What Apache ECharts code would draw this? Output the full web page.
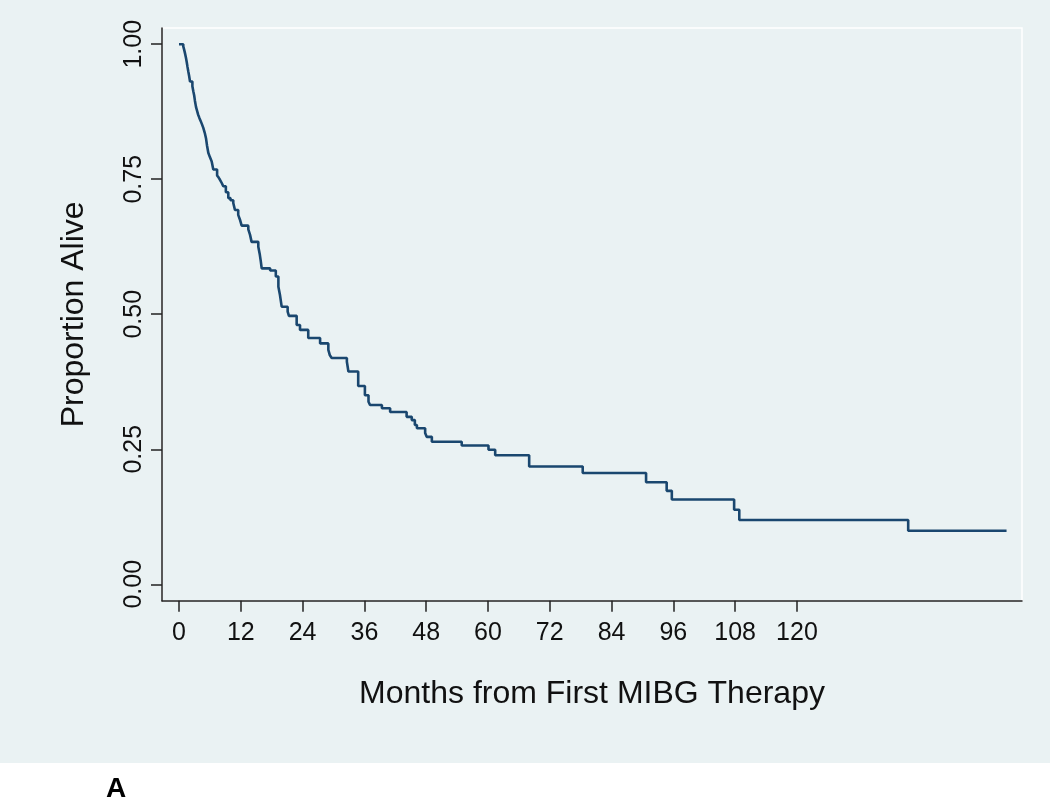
<!DOCTYPE html>
<html>
<head>
<meta charset="utf-8">
<script src="https://cdn.jsdelivr.net/npm/echarts@6/dist/echarts.min.js"></script>
<style>
  html, body { margin: 0; padding: 0; background: #ffffff; }
  #chart { width: 1050px; height: 799px; }
</style>
</head>
<body>
<div id="chart"></div>
<script>
// Kaplan-Meier estimate: time of each step (months) and survival after the step
const months = [0, 0.83, 1.0, 1.17, 1.35, 1.5, 1.65, 1.8, 1.97, 2.14, 2.6, 2.78, 2.95, 3.1, 3.3,
  3.5, 3.7, 3.94, 4.2, 4.45, 4.72, 5.0, 5.24, 5.45, 5.69, 6.0, 6.35, 6.66, 7.4, 7.7,
  7.96, 8.3, 8.6, 9.1, 9.57, 10.0, 10.54, 10.87, 11.5, 11.84, 12.17, 13.46, 13.8, 14.1, 15.4,
  15.7, 15.9, 16.06, 17.7, 18.8, 19.3, 19.6, 19.94, 21.1, 21.35, 22.85, 23.5, 25.1, 27.4, 29.0,
  29.3, 29.65, 32.6, 32.9, 34.8, 36.1, 36.8, 37.1, 39.4, 41.0, 44.2, 45.2, 45.8, 46.2, 47.8,
  48.1, 49.1, 54.9, 60.1, 61.4, 68.0, 78.4, 90.7, 94.7, 95.7, 107.8, 108.8, 141.6, 160.7];
const survival = [1.000, 0.996, 0.990, 0.983, 0.975, 0.967, 0.958, 0.950, 0.941, 0.931, 0.922, 0.913, 0.905, 0.895, 0.884,
  0.877, 0.870, 0.864, 0.858, 0.852, 0.845, 0.836, 0.826, 0.812, 0.799, 0.791, 0.783, 0.768, 0.757, 0.753,
  0.749, 0.743, 0.737, 0.726, 0.715, 0.711, 0.706, 0.693, 0.684, 0.675, 0.664, 0.657, 0.647, 0.634, 0.625,
  0.610, 0.597, 0.585, 0.581, 0.570, 0.551, 0.536, 0.514, 0.505, 0.497, 0.480, 0.471, 0.456, 0.446, 0.434,
  0.424, 0.419, 0.412, 0.394, 0.367, 0.350, 0.338, 0.332, 0.326, 0.319, 0.310, 0.304, 0.295, 0.289, 0.280,
  0.273, 0.264, 0.257, 0.249, 0.239, 0.218, 0.206, 0.189, 0.173, 0.157, 0.138, 0.119, 0.099, 0.099];
const xTicks = [0, 12, 24, 36, 48, 60, 72, 84, 96, 108, 120];
const yTicks = [0, 0.25, 0.5, 0.75, 1];
const xTitle = 'Months from First MIBG Therapy';
const yTitle = 'Proportion Alive';
const panelLabel = 'A';

const FONT = "'Liberation Sans', Arial, Helvetica, sans-serif";
const chart = echarts.init(document.getElementById('chart'), null, { renderer: 'canvas' });
const seriesData = months.map((m, i) => [m, survival[i]]);

chart.setOption({
  animation: false,
  backgroundColor: '#ffffff',
  textStyle: { fontFamily: FONT },
  graphic: [
    { type: 'rect', z: -10, silent: true, shape: { x: 0, y: 0, width: 1050, height: 763 }, style: { fill: '#eaf2f3' } },
    { type: 'text', left: 106, top: 775, style: { text: panelLabel, font: 'bold 28px ' + FONT, fill: '#000' } }
  ],
  grid: { left: 162, right: 28, top: 28, bottom: 198.3, show: true, borderColor: '#ffffff', borderWidth: 1.5, backgroundColor: 'transparent' },
  xAxis: {
    type: 'value', min: -3.3, max: 163.7,
    name: xTitle, nameLocation: 'middle', nameGap: 77,
    nameTextStyle: { fontSize: 32, color: '#111', fontFamily: FONT },
    axisLine: { onZero: false, lineStyle: { color: '#222', width: 1.5 } },
    axisTick: { show: true, customValues: xTicks, length: 11, lineStyle: { color: '#222', width: 1.5 } },
    axisLabel: { customValues: xTicks, fontSize: 25, color: '#111', margin: 20, fontFamily: FONT },
    splitLine: { show: false }
  },
  yAxis: {
    type: 'value', min: -0.0304, max: 1.0300,
    name: yTitle, nameLocation: 'middle', nameGap: 72,
    nameTextStyle: { fontSize: 32, color: '#111', fontFamily: FONT },
    axisLine: { show: true, onZero: false, lineStyle: { color: '#222', width: 1.5 } },
    axisTick: { show: true, customValues: yTicks, length: 11, lineStyle: { color: '#222', width: 1.5 } },
    axisLabel: { customValues: yTicks, rotate: 90, fontSize: 25, color: '#111', margin: 15, fontFamily: FONT,
      formatter: v => v.toFixed(2) },
    splitLine: { show: false }
  },
  series: [{
    type: 'line', step: 'end', data: seriesData, showSymbol: false, symbol: 'none',
    lineStyle: { color: '#1a476f', width: 2.6 }
  }]
});
</script>
</body>
</html>
